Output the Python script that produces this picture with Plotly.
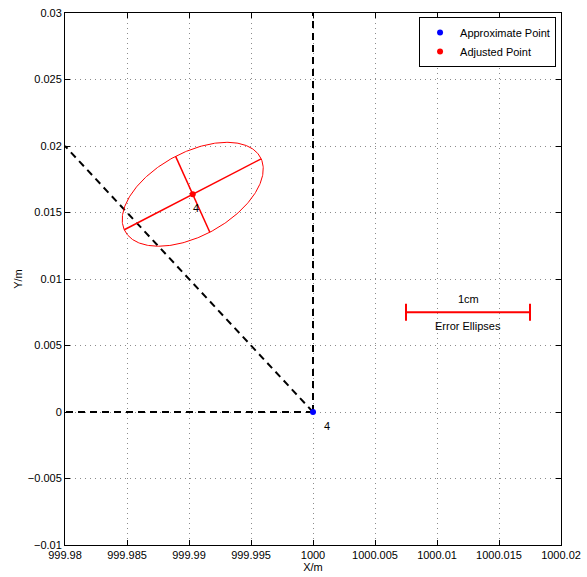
import numpy as np
import plotly.graph_objects as go

# Station 4: approximate and adjusted coordinates (m)
approx_x = [1000.0]
approx_y = [0.0]
adjusted_x = [999.9903]
adjusted_y = [0.01637]

# Error ellipse parameters (plot units, 1 cm drawn as 0.01)
ellipse_a = 0.00613      # semi-major axis
ellipse_b = 0.00317      # semi-minor axis
ellipse_angle = 25.8     # orientation of major axis, degrees

# Observation directions from station 4 to the known points
target_x = [999.98, 999.98, 1000.0]
target_y = [0.02, 0.0, 0.03]

# Point labels
label_text = ["4", "4"]
label_x = [1000.00113, 999.99059]
label_y = [-0.00103, 0.01532]

# Scale bar for the error ellipses
scale_x = [1000.0075, 1000.0175]
scale_y = [0.0075, 0.0075]
scale_title = "1cm"
scale_title_y = 0.00847
scale_caption = "Error Ellipses"
scale_caption_y = 0.00649

# Axis ticks
x_ticks = [999.98, 999.985, 999.99, 999.995, 1000.0, 1000.005, 1000.01, 1000.015, 1000.02]
x_ticktext = ["999.98", "999.985", "999.99", "999.995", "1000", "1000.005", "1000.01", "1000.015", "1000.02"]
y_ticks = [-0.01, -0.005, 0.0, 0.005, 0.01, 0.015, 0.02, 0.025, 0.03]
y_ticktext = ["\u22120.01", "\u22120.005", "0", "0.005", "0.01", "0.015", "0.02", "0.025", "0.03"]

FONT = "Liberation Sans, Arial, Helvetica, sans-serif"

fig = go.Figure()

# Dashed direction lines
for tx, ty in zip(target_x, target_y):
    fig.add_trace(go.Scatter(
        x=[approx_x[0], tx], y=[approx_y[0], ty], mode="lines",
        line=dict(color="black", width=2, dash="7px,5px"),
        showlegend=False, hoverinfo="skip"))

# Error ellipse outline
t = np.linspace(0, 2 * np.pi, 361)
th = np.deg2rad(ellipse_angle)
ex = adjusted_x[0] + ellipse_a * np.cos(t) * np.cos(th) - ellipse_b * np.sin(t) * np.sin(th)
ey = adjusted_y[0] + ellipse_a * np.cos(t) * np.sin(th) + ellipse_b * np.sin(t) * np.cos(th)
fig.add_trace(go.Scatter(x=ex, y=ey, mode="lines", line=dict(color="red", width=1),
                         showlegend=False, hoverinfo="skip"))

# Principal axes of the ellipse
for r, ang in [(ellipse_a, th), (ellipse_b, th + np.pi / 2)]:
    fig.add_trace(go.Scatter(
        x=[adjusted_x[0] - r * np.cos(ang), adjusted_x[0] + r * np.cos(ang)],
        y=[adjusted_y[0] - r * np.sin(ang), adjusted_y[0] + r * np.sin(ang)],
        mode="lines", line=dict(color="red", width=1.5),
        showlegend=False, hoverinfo="skip"))

# Points
fig.add_trace(go.Scatter(x=approx_x, y=approx_y, mode="markers", name="Approximate Point",
                         marker=dict(color="blue", size=6)))
fig.add_trace(go.Scatter(x=adjusted_x, y=adjusted_y, mode="markers", name="Adjusted Point",
                         marker=dict(color="red", size=6)))

# Scale bar with end caps
fig.add_trace(go.Scatter(x=scale_x, y=scale_y, mode="lines+markers",
                         line=dict(color="red", width=2),
                         marker=dict(symbol="line-ns", size=12, line=dict(color="red", width=2)),
                         showlegend=False, hoverinfo="skip"))

mid_x = (scale_x[0] + scale_x[1]) / 2
annotations = [
    dict(x=mid_x, y=scale_title_y, text=scale_title, showarrow=False,
         font=dict(size=11, color="black", family=FONT)),
    dict(x=mid_x, y=scale_caption_y, text=scale_caption, showarrow=False,
         font=dict(size=11, color="black", family=FONT)),
]
for txt, lx, ly in zip(label_text, label_x, label_y):
    annotations.append(dict(x=lx, y=ly, text=txt, showarrow=False,
                            font=dict(size=11, color="black", family=FONT)))

axis_common = dict(
    showline=True, linecolor="black", linewidth=1, mirror="allticks",
    ticks="inside", ticklen=5, tickcolor="black", tickwidth=1,
    showgrid=True, gridcolor="#8c8c8c", gridwidth=1, griddash="1px,4px",
    zeroline=False, automargin=False,
    tickfont=dict(size=11, color="black", family=FONT),
)

fig.update_layout(
    width=587, height=577,
    margin=dict(l=65, r=26, t=13, b=32),
    paper_bgcolor="white", plot_bgcolor="white",
    font=dict(family=FONT, size=11, color="black"),
    xaxis=dict(range=[999.98, 1000.02], tickvals=x_ticks, ticktext=x_ticktext,
               title=dict(text="X/m", standoff=3, font=dict(size=11)), **axis_common),
    yaxis=dict(range=[-0.01, 0.03], tickvals=y_ticks, ticktext=y_ticktext,
               title=dict(text="Y/m", standoff=2, font=dict(size=11)), **axis_common),
    legend=dict(x=0.99, y=0.9925, xanchor="right", yanchor="top",
                bgcolor="white", bordercolor="black", borderwidth=1,
                font=dict(size=11, family=FONT), tracegroupgap=0, itemwidth=30),
    annotations=annotations,
    showlegend=True,
)

fig.write_html("out.html")
